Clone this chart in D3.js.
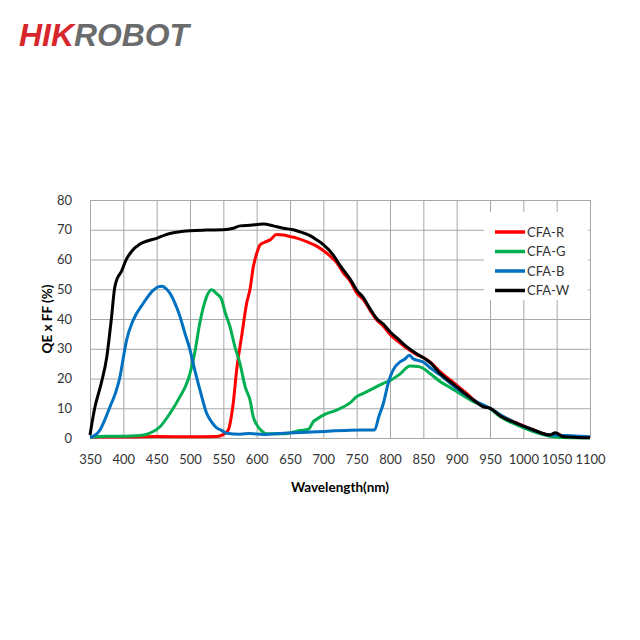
<!DOCTYPE html>
<html>
<head>
<meta charset="utf-8">
<script src="https://cdn.jsdelivr.net/npm/d3@7"></script>
<style>
  body { margin: 0; background: #fff; }
  svg { display: block; }
  .tick text { font-family: Lato, "Open Sans", sans-serif; font-size: 13px; fill: #333; }
</style>
</head>
<body>
<div id="chart"></div>
<script>
// Wavelength ticks and QE ticks
const xTicks = d3.range(350, 1101, 50);
const yTicks = d3.range(0, 81, 10);

// Series: [wavelength nm, QE x FF %]
const cfaR = [[350,0.3],[400,0.3],[450,0.5],[500,0.4],[540,0.5],[550,1.2],[557,2.5],[565,12],[570,22.9],[578,35],[585,45.3],[590,50],[595,57.6],[600,62],[605,64.9],[612,65.8],[620,66.6],[630,68.4],[640,68.2],[650,67.7],[660,67.2],[675,66],[690,64.5],[700,63],[710,61.2],[720,59],[730,55.5],[740,52.8],[750,48.8],[760,46.5],[770,43],[780,39.7],[790,37.6],[800,34.8],[812,32.5],[825,30.2],[840,28],[850,27],[862,25.2],[875,22.3],[890,19.6],[900,17.8],[915,15],[925,13],[940,10.8],[950,10],[965,7.7],[990,5.1],[1015,2.8],[1040,1],[1050,1.5],[1060,0.5],[1080,0.3],[1100,0.2]];
const cfaG = [[350,0.3],[375,0.6],[400,0.6],[425,0.8],[440,1.6],[455,3.8],[470,8.3],[485,13.9],[497,19.5],[507,28.5],[515,39],[525,47.5],[532,49.8],[540,48.5],[547,46.8],[553,42],[560,37.4],[567,31],[575,25],[583,17],[590,12.8],[595,7],[600,4.5],[607,2.5],[615,1.4],[640,1.4],[665,2.5],[678,3],[685,5.5],[690,6.3],[700,7.7],[720,9.4],[740,11.8],[750,13.9],[760,15],[775,16.7],[790,18.4],[800,19.3],[815,21.5],[830,24.2],[845,23.9],[860,21.7],[875,19],[890,17],[900,15.6],[925,12.2],[950,9.9],[965,7.2],[990,4.4],[1015,2.2],[1040,0.6],[1055,0.2],[1100,0.1]];
const cfaB = [[350,0.2],[358,1],[365,2.7],[372,6],[380,10.5],[388,15],[395,20.6],[400,27],[405,33],[415,39.7],[430,45.3],[445,49.7],[452,50.8],[458,51],[465,50],[470,48.6],[478,45],[485,40.8],[492,35.5],[500,29.6],[507,23],[515,16.1],[525,8.3],[532,5.5],[540,3.4],[548,2.5],[555,1.6],[575,1.3],[590,1.5],[610,1.2],[640,1.6],[690,2.1],[740,2.6],[777,2.7],[783,7],[790,11.6],[798,19],[805,23],[815,25.6],[822,26.5],[829,27.8],[835,26.6],[840,26.2],[850,25.5],[862,23.3],[875,21.2],[890,18.5],[900,16.7],[925,12.8],[950,10],[965,7.9],[990,4.9],[1015,2.7],[1040,1],[1065,0.8],[1100,0.4]];
const cfaW = [[350,1],[357,10],[367,18.5],[375,27],[382,40],[387,50.5],[391,53.7],[397,55.9],[404,59.8],[412,62.6],[425,65.2],[437,66.3],[450,67.1],[462,68.2],[475,69],[487,69.4],[500,69.7],[525,69.9],[550,70],[565,70.5],[575,71.3],[590,71.5],[610,71.9],[625,71.3],[640,70.5],[655,70],[665,69.3],[680,68],[690,66.6],[700,65],[715,61.5],[725,58],[735,55],[740,53.5],[750,49.7],[760,47.2],[770,43.5],[780,40.2],[790,38.3],[800,35.7],[812,33.3],[825,30.7],[840,28.3],[850,27],[862,25],[875,21.7],[890,19],[900,17.2],[915,14.5],[925,12.8],[940,10.5],[950,10],[965,7.5],[990,4.9],[1015,2.7],[1040,1],[1048,1.8],[1060,0.4],[1080,0.2],[1100,0.1]];

const seriesNames = ["CFA-R", "CFA-G", "CFA-B", "CFA-W"];
const seriesData = [cfaR, cfaG, cfaB, cfaW];
const seriesColors = ["#ff0000", "#00b050", "#0070c0", "#000000"];

const margin = { top: 200, right: 50, bottom: 202, left: 90 };
const W = 640, H = 640;
const width = W - margin.left - margin.right;
const height = H - margin.top - margin.bottom;

const svg = d3.select("#chart").append("svg")
  .attr("width", W).attr("height", H);

// logo
const logo = svg.append("text")
  .attr("x", 19).attr("y", 46)
  .attr("textLength", 170).attr("lengthAdjust", "spacingAndGlyphs")
  .style("font-family", "'Liberation Sans', Arial, sans-serif")
  .style("font-weight", "bold").style("font-style", "italic")
  .style("font-size", "32px");
logo.append("tspan").attr("fill", "#d8262d").text("HIK");
logo.append("tspan").attr("fill", "#6a6b6d").text("ROBOT");

const g = svg.append("g").attr("transform", `translate(${margin.left},${margin.top})`);

const x = d3.scaleLinear().domain([350, 1100]).range([0, width]);
const y = d3.scaleLinear().domain([0, 80]).range([height, 0]);

// gridlines
g.append("g").attr("class", "grid")
  .attr("transform", `translate(0,${height})`)
  .call(d3.axisBottom(x).tickValues(xTicks).tickSize(-height).tickFormat(""))
  .call(s => s.select(".domain").remove())
  .call(s => s.selectAll("line").attr("stroke", "#a8a8a8"));
g.append("g").attr("class", "grid")
  .call(d3.axisLeft(y).tickValues(yTicks).tickSize(-width).tickFormat(""))
  .call(s => s.select(".domain").remove())
  .call(s => s.selectAll("line").attr("stroke", "#a8a8a8"));

// tick labels
g.append("g")
  .attr("transform", `translate(0,${height})`)
  .call(d3.axisBottom(x).tickValues(xTicks).tickFormat(d3.format("d")).tickSize(0).tickPadding(17))
  .call(s => s.select(".domain").remove());
g.append("g")
  .call(d3.axisLeft(y).tickValues(yTicks).tickFormat(d3.format("d")).tickSize(0).tickPadding(18))
  .call(s => s.select(".domain").remove());

// curves
const line = d3.line()
  .x(d => x(d[0]))
  .y(d => y(d[1]))
  .curve(d3.curveMonotoneX);

g.selectAll(".series")
  .data(seriesData)
  .join("path")
  .attr("class", "series")
  .attr("fill", "none")
  .attr("stroke", (d, i) => seriesColors[i])
  .attr("stroke-width", 3)
  .attr("stroke-linejoin", "round")
  .attr("d", line);

// legend
const legend = g.append("g").attr("transform", `translate(${width - 106},12)`);
legend.append("rect")
  .attr("width", 104).attr("height", 88)
  .attr("fill", "#fff");
seriesNames.forEach((name, i) => {
  const row = legend.append("g").attr("transform", `translate(0,${20 + i * 19.5})`);
  row.append("line")
    .attr("x1", 11).attr("x2", 41)
    .attr("stroke", seriesColors[i]).attr("stroke-width", 3.5);
  row.append("text")
    .attr("x", 43).attr("dy", "0.35em")
    .style("font-family", "Lato, 'Open Sans', sans-serif")
    .style("font-size", "13px").attr("fill", "#333")
    .text(name);
});

// axis titles
g.append("text")
  .attr("x", width / 2).attr("y", height + 54)
  .attr("text-anchor", "middle")
  .style("font-family", "Lato, 'Open Sans', sans-serif")
  .style("font-size", "13.5px").style("font-weight", "bold")
  .text("Wavelength(nm)");

g.append("text")
  .attr("transform", "rotate(-90)")
  .attr("x", -height / 2).attr("y", -38)
  .attr("text-anchor", "middle")
  .style("font-family", "Lato, 'Open Sans', sans-serif")
  .style("font-size", "13.5px").style("font-weight", "bold")
  .text("QE x FF (%)");
</script>
</body>
</html>
